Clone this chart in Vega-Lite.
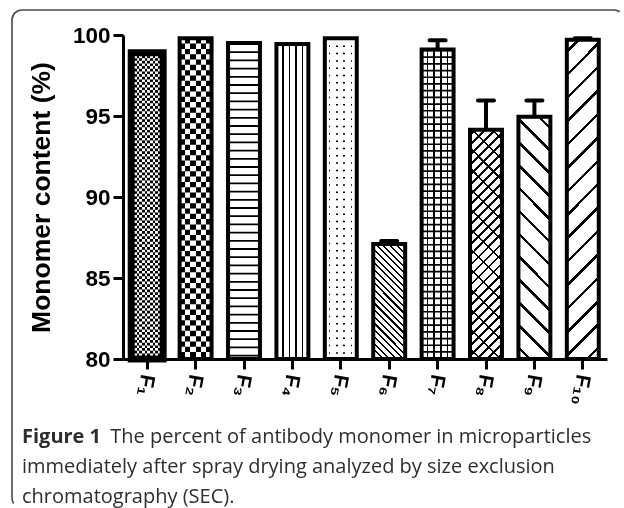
{
"$schema": "https://vega.github.io/schema/vega-lite/v6.json",
"width": 612, "height": 498,
"autosize": {"type": "none"},
"padding": {"left": 12, "top": 10, "right": 0, "bottom": 0},
"background": "white",
"config": {
  "view": {"stroke": "#4a4a4a", "strokeWidth": 1.6, "cornerRadius": 10, "strokeDash": [598, 1105, 510]},
  "axis": {"grid": false}
},
"title": {
  "text": "Figure 1",
  "subtitle": ["\u200b\u00a0\u00a0\u00a0\u00a0\u00a0\u00a0\u00a0\u00a0\u00a0\u00a0\u00a0\u00a0\u00a0\u00a0\u00a0\u00a0\u00a0The percent of antibody monomer in microparticles", "immediately after spray drying analyzed by size exclusion", "chromatography (SEC)."],
  "orient": "bottom", "anchor": "start", "frame": "group", "offset": -81, "dx": 10,
  "font": "Open Sans", "fontSize": 20, "fontWeight": "bold", "color": "#2e2e2e",
  "subtitleFont": "Open Sans", "subtitleFontSize": 20, "subtitleFontWeight": "normal", "subtitleColor": "#2e2e2e", "subtitleLineHeight": 30, "subtitlePadding": -20
},
"data": {"values": [
  {"f": "F\u2081", "v": 98.9},
  {"f": "F\u2082", "v": 99.8},
  {"f": "F\u2083", "v": 99.5},
  {"f": "F\u2084", "v": 99.45},
  {"f": "F\u2085", "v": 99.8},
  {"f": "F\u2086", "v": 87.1, "hi": 87.28},
  {"f": "F\u2087", "v": 99.1, "hi": 99.67},
  {"f": "F\u2088", "v": 94.15, "hi": 95.95},
  {"f": "F\u2089", "v": 94.95, "hi": 95.95},
  {"f": "F\u2081\u2080", "v": 99.7, "hi": 99.8}
]},
"encoding": {
  "x": {"field": "f", "type": "nominal",
    "scale": {"domain": ["F\u2081","F\u2082","F\u2083","F\u2084","F\u2085","F\u2086","F\u2087","F\u2088","F\u2089","F\u2081\u2080"], "range": [111, 595], "paddingInner": 0.34, "paddingOuter": 0.17},
    "axis": {"title": null, "labelAngle": 100, "labelFont": "Liberation Sans", "labelFontSize": 21, "labelFontWeight": "bold", "labelColor": "black", "labelPadding": 5, "tickSize": 10, "tickWidth": 3, "tickColor": "black", "domainColor": "black", "domainWidth": 3, "offset": -149}},
  "y": {"field": "v", "type": "quantitative",
    "scale": {"domain": [80, 100], "range": [349, 25], "nice": false, "zero": false},
    "axis": {"title": "Monomer content (%)", "titleFont": "Liberation Sans", "titleFontSize": 26.5, "titleFontWeight": "bold", "titleColor": "black", "titlePadding": 17, "values": [80, 85, 90, 95, 100], "labelFont": "Liberation Sans", "labelFontSize": 22.5, "labelFontWeight": "bold", "labelColor": "black", "labelPadding": 3, "tickSize": 10, "tickWidth": 3, "tickColor": "black", "domainColor": "black", "domainWidth": 3, "offset": -111}}
},
"layer": [
  {"mark": {"type": "bar", "fill": "#fff"}, "encoding": {"y2": {"datum": 80}}},
  {"transform": [{"filter": "datum.f==='F\u2081'"}], "mark": {"type": "bar", "fill": {"gradient": "linear", "x1": 0, "y1": 0, "x2": 1, "y2": 0, "stops": [
    {"offset":0,"color":"#000"},{"offset":0.0833,"color":"#000"},{"offset":0.0833,"color":"#fff"},{"offset":0.1667,"color":"#fff"},{"offset":0.1667,"color":"#000"},{"offset":0.25,"color":"#000"},{"offset":0.25,"color":"#fff"},{"offset":0.3333,"color":"#fff"},{"offset":0.3333,"color":"#000"},{"offset":0.4167,"color":"#000"},{"offset":0.4167,"color":"#fff"},{"offset":0.5,"color":"#fff"},{"offset":0.5,"color":"#000"},{"offset":0.5833,"color":"#000"},{"offset":0.5833,"color":"#fff"},{"offset":0.6667,"color":"#fff"},{"offset":0.6667,"color":"#000"},{"offset":0.75,"color":"#000"},{"offset":0.75,"color":"#fff"},{"offset":0.8333,"color":"#fff"},{"offset":0.8333,"color":"#000"},{"offset":0.9167,"color":"#000"},{"offset":0.9167,"color":"#fff"},{"offset":1,"color":"#fff"}]}}, "encoding": {"y2": {"datum": 80}}},
  {"transform": [{"filter": "datum.f==='F\u2082'"}], "mark": {"type": "bar", "fill": {"gradient": "linear", "x1": 0, "y1": 0, "x2": 1, "y2": 0, "stops": [
    {"offset":0,"color":"#000"},{"offset":0.1667,"color":"#000"},{"offset":0.1667,"color":"#fff"},{"offset":0.3333,"color":"#fff"},{"offset":0.3333,"color":"#000"},{"offset":0.5,"color":"#000"},{"offset":0.5,"color":"#fff"},{"offset":0.6667,"color":"#fff"},{"offset":0.6667,"color":"#000"},{"offset":0.8333,"color":"#000"},{"offset":0.8333,"color":"#fff"},{"offset":1,"color":"#fff"}]}}, "encoding": {"y2": {"datum": 80}}},
  {"transform": [{"filter": "datum.f==='F\u2084'"}], "mark": {"type": "bar", "fill": {"gradient": "linear", "x1": 0, "y1": 0, "x2": 1, "y2": 0, "stops": [
    {"offset":0,"color":"#fff"},{"offset":0.178,"color":"#fff"},{"offset":0.178,"color":"#000"},{"offset":0.228,"color":"#000"},{"offset":0.228,"color":"#fff"},{"offset":0.381,"color":"#fff"},{"offset":0.381,"color":"#000"},{"offset":0.431,"color":"#000"},{"offset":0.431,"color":"#fff"},{"offset":0.584,"color":"#fff"},{"offset":0.584,"color":"#000"},{"offset":0.634,"color":"#000"},{"offset":0.634,"color":"#fff"},{"offset":0.788,"color":"#fff"},{"offset":0.788,"color":"#000"},{"offset":0.838,"color":"#000"},{"offset":0.838,"color":"#fff"},{"offset":1,"color":"#fff"}]}}, "encoding": {"y2": {"datum": 80}}},
  {"transform": [{"filter": "datum.f==='F\u2086'"}], "mark": {"type": "bar", "fill": {"gradient": "linear", "x1": 0, "y1": 1, "x2": 0.3301, "y2": -0.1864, "stops": [
    {"offset":0.0155,"color":"#fff"},{"offset":0.0155,"color":"#000"},{"offset":0.0299,"color":"#000"},{"offset":0.0299,"color":"#fff"},
    {"offset":0.061,"color":"#fff"},{"offset":0.061,"color":"#000"},{"offset":0.0754,"color":"#000"},{"offset":0.0754,"color":"#fff"},
    {"offset":0.1064,"color":"#fff"},{"offset":0.1064,"color":"#000"},{"offset":0.1208,"color":"#000"},{"offset":0.1208,"color":"#fff"},
    {"offset":0.1519,"color":"#fff"},{"offset":0.1519,"color":"#000"},{"offset":0.1663,"color":"#000"},{"offset":0.1663,"color":"#fff"},
    {"offset":0.1973,"color":"#fff"},{"offset":0.1973,"color":"#000"},{"offset":0.2117,"color":"#000"},{"offset":0.2117,"color":"#fff"},
    {"offset":0.2428,"color":"#fff"},{"offset":0.2428,"color":"#000"},{"offset":0.2572,"color":"#000"},{"offset":0.2572,"color":"#fff"},
    {"offset":0.2883,"color":"#fff"},{"offset":0.2883,"color":"#000"},{"offset":0.3027,"color":"#000"},{"offset":0.3027,"color":"#fff"},
    {"offset":0.3337,"color":"#fff"},{"offset":0.3337,"color":"#000"},{"offset":0.3481,"color":"#000"},{"offset":0.3481,"color":"#fff"},
    {"offset":0.3792,"color":"#fff"},{"offset":0.3792,"color":"#000"},{"offset":0.3936,"color":"#000"},{"offset":0.3936,"color":"#fff"},
    {"offset":0.4246,"color":"#fff"},{"offset":0.4246,"color":"#000"},{"offset":0.439,"color":"#000"},{"offset":0.439,"color":"#fff"},
    {"offset":0.4701,"color":"#fff"},{"offset":0.4701,"color":"#000"},{"offset":0.4845,"color":"#000"},{"offset":0.4845,"color":"#fff"},
    {"offset":0.5155,"color":"#fff"},{"offset":0.5155,"color":"#000"},{"offset":0.5299,"color":"#000"},{"offset":0.5299,"color":"#fff"},
    {"offset":0.561,"color":"#fff"},{"offset":0.561,"color":"#000"},{"offset":0.5754,"color":"#000"},{"offset":0.5754,"color":"#fff"},
    {"offset":0.6064,"color":"#fff"},{"offset":0.6064,"color":"#000"},{"offset":0.6208,"color":"#000"},{"offset":0.6208,"color":"#fff"},
    {"offset":0.6519,"color":"#fff"},{"offset":0.6519,"color":"#000"},{"offset":0.6663,"color":"#000"},{"offset":0.6663,"color":"#fff"},
    {"offset":0.6973,"color":"#fff"},{"offset":0.6973,"color":"#000"},{"offset":0.7117,"color":"#000"},{"offset":0.7117,"color":"#fff"},
    {"offset":0.7428,"color":"#fff"},{"offset":0.7428,"color":"#000"},{"offset":0.7572,"color":"#000"},{"offset":0.7572,"color":"#fff"},
    {"offset":0.7883,"color":"#fff"},{"offset":0.7883,"color":"#000"},{"offset":0.8027,"color":"#000"},{"offset":0.8027,"color":"#fff"},
    {"offset":0.8337,"color":"#fff"},{"offset":0.8337,"color":"#000"},{"offset":0.8481,"color":"#000"},{"offset":0.8481,"color":"#fff"},
    {"offset":0.8792,"color":"#fff"},{"offset":0.8792,"color":"#000"},{"offset":0.8936,"color":"#000"},{"offset":0.8936,"color":"#fff"},
    {"offset":0.9246,"color":"#fff"},{"offset":0.9246,"color":"#000"},{"offset":0.939,"color":"#000"},{"offset":0.939,"color":"#fff"},
    {"offset":0.9701,"color":"#fff"},{"offset":0.9701,"color":"#000"},{"offset":0.9845,"color":"#000"},{"offset":0.9845,"color":"#fff"}]}}, "encoding": {"y2": {"datum": 80}}},
  {"transform": [{"filter": "datum.f==='F\u2087'"}], "mark": {"type": "bar", "fill": {"gradient": "linear", "x1": 0, "y1": 0, "x2": 1, "y2": 0, "stops": [
    {"offset":0,"color":"#fff"},{"offset":0.159,"color":"#fff"},{"offset":0.159,"color":"#000"},{"offset":0.213,"color":"#000"},{"offset":0.213,"color":"#fff"},{"offset":0.369,"color":"#fff"},{"offset":0.369,"color":"#000"},{"offset":0.422,"color":"#000"},{"offset":0.422,"color":"#fff"},{"offset":0.578,"color":"#fff"},{"offset":0.578,"color":"#000"},{"offset":0.631,"color":"#000"},{"offset":0.631,"color":"#fff"},{"offset":0.788,"color":"#fff"},{"offset":0.788,"color":"#000"},{"offset":0.841,"color":"#000"},{"offset":0.841,"color":"#fff"},{"offset":1,"color":"#fff"}]}}, "encoding": {"y2": {"datum": 80}}},
  {"transform": [{"filter": "datum.f==='F\u2088'"}], "mark": {"type": "bar", "fill": {"gradient": "linear", "x1": 0, "y1": 0, "x2": 0.1562, "y2": 1.118, "stops": [
    {"offset":0.0138,"color":"#fff"},{"offset":0.0138,"color":"#000"},{"offset":0.0246,"color":"#000"},{"offset":0.0246,"color":"#fff"},
    {"offset":0.0523,"color":"#fff"},{"offset":0.0523,"color":"#000"},{"offset":0.0631,"color":"#000"},{"offset":0.0631,"color":"#fff"},
    {"offset":0.0908,"color":"#fff"},{"offset":0.0908,"color":"#000"},{"offset":0.1016,"color":"#000"},{"offset":0.1016,"color":"#fff"},
    {"offset":0.1292,"color":"#fff"},{"offset":0.1292,"color":"#000"},{"offset":0.14,"color":"#000"},{"offset":0.14,"color":"#fff"},
    {"offset":0.1677,"color":"#fff"},{"offset":0.1677,"color":"#000"},{"offset":0.1785,"color":"#000"},{"offset":0.1785,"color":"#fff"},
    {"offset":0.2061,"color":"#fff"},{"offset":0.2061,"color":"#000"},{"offset":0.2169,"color":"#000"},{"offset":0.2169,"color":"#fff"},
    {"offset":0.2446,"color":"#fff"},{"offset":0.2446,"color":"#000"},{"offset":0.2554,"color":"#000"},{"offset":0.2554,"color":"#fff"},
    {"offset":0.2831,"color":"#fff"},{"offset":0.2831,"color":"#000"},{"offset":0.2939,"color":"#000"},{"offset":0.2939,"color":"#fff"},
    {"offset":0.3215,"color":"#fff"},{"offset":0.3215,"color":"#000"},{"offset":0.3323,"color":"#000"},{"offset":0.3323,"color":"#fff"},
    {"offset":0.36,"color":"#fff"},{"offset":0.36,"color":"#000"},{"offset":0.3708,"color":"#000"},{"offset":0.3708,"color":"#fff"},
    {"offset":0.3984,"color":"#fff"},{"offset":0.3984,"color":"#000"},{"offset":0.4092,"color":"#000"},{"offset":0.4092,"color":"#fff"},
    {"offset":0.4369,"color":"#fff"},{"offset":0.4369,"color":"#000"},{"offset":0.4477,"color":"#000"},{"offset":0.4477,"color":"#fff"},
    {"offset":0.4754,"color":"#fff"},{"offset":0.4754,"color":"#000"},{"offset":0.4862,"color":"#000"},{"offset":0.4862,"color":"#fff"},
    {"offset":0.5138,"color":"#fff"},{"offset":0.5138,"color":"#000"},{"offset":0.5246,"color":"#000"},{"offset":0.5246,"color":"#fff"},
    {"offset":0.5523,"color":"#fff"},{"offset":0.5523,"color":"#000"},{"offset":0.5631,"color":"#000"},{"offset":0.5631,"color":"#fff"},
    {"offset":0.5908,"color":"#fff"},{"offset":0.5908,"color":"#000"},{"offset":0.6016,"color":"#000"},{"offset":0.6016,"color":"#fff"},
    {"offset":0.6292,"color":"#fff"},{"offset":0.6292,"color":"#000"},{"offset":0.64,"color":"#000"},{"offset":0.64,"color":"#fff"},
    {"offset":0.6677,"color":"#fff"},{"offset":0.6677,"color":"#000"},{"offset":0.6785,"color":"#000"},{"offset":0.6785,"color":"#fff"},
    {"offset":0.7061,"color":"#fff"},{"offset":0.7061,"color":"#000"},{"offset":0.7169,"color":"#000"},{"offset":0.7169,"color":"#fff"},
    {"offset":0.7446,"color":"#fff"},{"offset":0.7446,"color":"#000"},{"offset":0.7554,"color":"#000"},{"offset":0.7554,"color":"#fff"},
    {"offset":0.7831,"color":"#fff"},{"offset":0.7831,"color":"#000"},{"offset":0.7939,"color":"#000"},{"offset":0.7939,"color":"#fff"},
    {"offset":0.8215,"color":"#fff"},{"offset":0.8215,"color":"#000"},{"offset":0.8323,"color":"#000"},{"offset":0.8323,"color":"#fff"},
    {"offset":0.86,"color":"#fff"},{"offset":0.86,"color":"#000"},{"offset":0.8708,"color":"#000"},{"offset":0.8708,"color":"#fff"},
    {"offset":0.8984,"color":"#fff"},{"offset":0.8984,"color":"#000"},{"offset":0.9092,"color":"#000"},{"offset":0.9092,"color":"#fff"},
    {"offset":0.9369,"color":"#fff"},{"offset":0.9369,"color":"#000"},{"offset":0.9477,"color":"#000"},{"offset":0.9477,"color":"#fff"},
    {"offset":0.9754,"color":"#fff"},{"offset":0.9754,"color":"#000"},{"offset":0.9862,"color":"#000"},{"offset":0.9862,"color":"#fff"}]}}, "encoding": {"y2": {"datum": 80}}},
  {"transform": [{"filter": "datum.f==='F\u2088'"}], "mark": {"type": "bar", "fill": {"gradient": "linear", "x1": 0, "y1": 1, "x2": 0.1562, "y2": -0.118, "stops": [
    {"offset":0.0345,"color":"rgba(0,0,0,0)"},{"offset":0.0345,"color":"#000"},{"offset":0.0425,"color":"#000"},{"offset":0.0425,"color":"rgba(0,0,0,0)"},
    {"offset":0.1114,"color":"rgba(0,0,0,0)"},{"offset":0.1114,"color":"#000"},{"offset":0.1194,"color":"#000"},{"offset":0.1194,"color":"rgba(0,0,0,0)"},
    {"offset":0.1883,"color":"rgba(0,0,0,0)"},{"offset":0.1883,"color":"#000"},{"offset":0.1963,"color":"#000"},{"offset":0.1963,"color":"rgba(0,0,0,0)"},
    {"offset":0.2652,"color":"rgba(0,0,0,0)"},{"offset":0.2652,"color":"#000"},{"offset":0.2732,"color":"#000"},{"offset":0.2732,"color":"rgba(0,0,0,0)"},
    {"offset":0.3422,"color":"rgba(0,0,0,0)"},{"offset":0.3422,"color":"#000"},{"offset":0.3502,"color":"#000"},{"offset":0.3502,"color":"rgba(0,0,0,0)"},
    {"offset":0.4191,"color":"rgba(0,0,0,0)"},{"offset":0.4191,"color":"#000"},{"offset":0.4271,"color":"#000"},{"offset":0.4271,"color":"rgba(0,0,0,0)"},
    {"offset":0.496,"color":"rgba(0,0,0,0)"},{"offset":0.496,"color":"#000"},{"offset":0.504,"color":"#000"},{"offset":0.504,"color":"rgba(0,0,0,0)"},
    {"offset":0.5729,"color":"rgba(0,0,0,0)"},{"offset":0.5729,"color":"#000"},{"offset":0.5809,"color":"#000"},{"offset":0.5809,"color":"rgba(0,0,0,0)"},
    {"offset":0.6498,"color":"rgba(0,0,0,0)"},{"offset":0.6498,"color":"#000"},{"offset":0.6578,"color":"#000"},{"offset":0.6578,"color":"rgba(0,0,0,0)"},
    {"offset":0.7268,"color":"rgba(0,0,0,0)"},{"offset":0.7268,"color":"#000"},{"offset":0.7348,"color":"#000"},{"offset":0.7348,"color":"rgba(0,0,0,0)"},
    {"offset":0.8037,"color":"rgba(0,0,0,0)"},{"offset":0.8037,"color":"#000"},{"offset":0.8117,"color":"#000"},{"offset":0.8117,"color":"rgba(0,0,0,0)"},
    {"offset":0.8806,"color":"rgba(0,0,0,0)"},{"offset":0.8806,"color":"#000"},{"offset":0.8886,"color":"#000"},{"offset":0.8886,"color":"rgba(0,0,0,0)"},
    {"offset":0.9575,"color":"rgba(0,0,0,0)"},{"offset":0.9575,"color":"#000"},{"offset":0.9655,"color":"#000"},{"offset":0.9655,"color":"rgba(0,0,0,0)"}]}}, "encoding": {"y2": {"datum": 80}}},
  {"transform": [{"filter": "datum.f==='F\u2089'"}], "mark": {"type": "bar", "fill": {"gradient": "linear", "x1": 0, "y1": 1, "x2": 0.1471, "y2": -0.1128, "stops": [
    {"offset":0.0352,"color":"#fff"},{"offset":0.0352,"color":"#000"},{"offset":0.0482,"color":"#000"},{"offset":0.0482,"color":"#fff"},
    {"offset":0.1185,"color":"#fff"},{"offset":0.1185,"color":"#000"},{"offset":0.1315,"color":"#000"},{"offset":0.1315,"color":"#fff"},
    {"offset":0.2018,"color":"#fff"},{"offset":0.2018,"color":"#000"},{"offset":0.2148,"color":"#000"},{"offset":0.2148,"color":"#fff"},
    {"offset":0.2852,"color":"#fff"},{"offset":0.2852,"color":"#000"},{"offset":0.2982,"color":"#000"},{"offset":0.2982,"color":"#fff"},
    {"offset":0.3685,"color":"#fff"},{"offset":0.3685,"color":"#000"},{"offset":0.3815,"color":"#000"},{"offset":0.3815,"color":"#fff"},
    {"offset":0.4518,"color":"#fff"},{"offset":0.4518,"color":"#000"},{"offset":0.4648,"color":"#000"},{"offset":0.4648,"color":"#fff"},
    {"offset":0.5352,"color":"#fff"},{"offset":0.5352,"color":"#000"},{"offset":0.5482,"color":"#000"},{"offset":0.5482,"color":"#fff"},
    {"offset":0.6185,"color":"#fff"},{"offset":0.6185,"color":"#000"},{"offset":0.6315,"color":"#000"},{"offset":0.6315,"color":"#fff"},
    {"offset":0.7018,"color":"#fff"},{"offset":0.7018,"color":"#000"},{"offset":0.7148,"color":"#000"},{"offset":0.7148,"color":"#fff"},
    {"offset":0.7852,"color":"#fff"},{"offset":0.7852,"color":"#000"},{"offset":0.7982,"color":"#000"},{"offset":0.7982,"color":"#fff"},
    {"offset":0.8685,"color":"#fff"},{"offset":0.8685,"color":"#000"},{"offset":0.8815,"color":"#000"},{"offset":0.8815,"color":"#fff"},
    {"offset":0.9518,"color":"#fff"},{"offset":0.9518,"color":"#000"},{"offset":0.9648,"color":"#000"},{"offset":0.9648,"color":"#fff"}]}}, "encoding": {"y2": {"datum": 80}}},
  {"transform": [{"filter": "datum.f==='F\u2081\u2080'"}], "mark": {"type": "bar", "fill": {"gradient": "linear", "x1": 0, "y1": 0, "x2": 0.1093, "y2": 1.0894, "stops": [
    {"offset":0.0283,"color":"#fff"},{"offset":0.0283,"color":"#000"},{"offset":0.0383,"color":"#000"},{"offset":0.0383,"color":"#fff"},
    {"offset":0.095,"color":"#fff"},{"offset":0.095,"color":"#000"},{"offset":0.105,"color":"#000"},{"offset":0.105,"color":"#fff"},
    {"offset":0.1617,"color":"#fff"},{"offset":0.1617,"color":"#000"},{"offset":0.1717,"color":"#000"},{"offset":0.1717,"color":"#fff"},
    {"offset":0.2283,"color":"#fff"},{"offset":0.2283,"color":"#000"},{"offset":0.2383,"color":"#000"},{"offset":0.2383,"color":"#fff"},
    {"offset":0.295,"color":"#fff"},{"offset":0.295,"color":"#000"},{"offset":0.305,"color":"#000"},{"offset":0.305,"color":"#fff"},
    {"offset":0.3617,"color":"#fff"},{"offset":0.3617,"color":"#000"},{"offset":0.3717,"color":"#000"},{"offset":0.3717,"color":"#fff"},
    {"offset":0.4283,"color":"#fff"},{"offset":0.4283,"color":"#000"},{"offset":0.4383,"color":"#000"},{"offset":0.4383,"color":"#fff"},
    {"offset":0.495,"color":"#fff"},{"offset":0.495,"color":"#000"},{"offset":0.505,"color":"#000"},{"offset":0.505,"color":"#fff"},
    {"offset":0.5617,"color":"#fff"},{"offset":0.5617,"color":"#000"},{"offset":0.5717,"color":"#000"},{"offset":0.5717,"color":"#fff"},
    {"offset":0.6283,"color":"#fff"},{"offset":0.6283,"color":"#000"},{"offset":0.6383,"color":"#000"},{"offset":0.6383,"color":"#fff"},
    {"offset":0.695,"color":"#fff"},{"offset":0.695,"color":"#000"},{"offset":0.705,"color":"#000"},{"offset":0.705,"color":"#fff"},
    {"offset":0.7617,"color":"#fff"},{"offset":0.7617,"color":"#000"},{"offset":0.7717,"color":"#000"},{"offset":0.7717,"color":"#fff"},
    {"offset":0.8283,"color":"#fff"},{"offset":0.8283,"color":"#000"},{"offset":0.8383,"color":"#000"},{"offset":0.8383,"color":"#fff"},
    {"offset":0.895,"color":"#fff"},{"offset":0.895,"color":"#000"},{"offset":0.905,"color":"#000"},{"offset":0.905,"color":"#fff"},
    {"offset":0.9617,"color":"#fff"},{"offset":0.9617,"color":"#000"},{"offset":0.9717,"color":"#000"},{"offset":0.9717,"color":"#fff"}]}}, "encoding": {"y2": {"datum": 80}}},
  {"transform": [{"filter": "datum.f==='F\u2081'"}], "mark": {"type": "rule", "stroke": "#fff", "strokeWidth": 31.9, "strokeDash": [2.66, 2.66], "blend": "difference"}, "encoding": {"y2": {"datum": 80}}},
  {"transform": [{"filter": "datum.f==='F\u2082'"}], "mark": {"type": "rule", "stroke": "#fff", "strokeWidth": 31.9, "strokeDash": [5.32, 5.32], "blend": "difference"}, "encoding": {"y2": {"datum": 80}}},
  {"transform": [{"filter": "datum.f==='F\u2083'"}], "mark": {"type": "rule", "stroke": "#000", "strokeWidth": 31.9, "strokeDash": [1.8, 6.4]}, "encoding": {"y2": {"datum": 80}}},
  {"transform": [{"filter": "datum.f==='F\u2085'"}], "mark": {"type": "rule", "stroke": "#000", "strokeWidth": 31.9, "strokeDash": [1.5, 5.8]}, "encoding": {"y2": {"datum": 80}}},
  {"transform": [{"filter": "datum.f==='F\u2085'"}], "mark": {"type": "bar", "fill": {"gradient": "linear", "x1": 0, "y1": 0, "x2": 1, "y2": 0, "stops": [
    {"offset":0,"color":"#fff"},{"offset":0.125,"color":"#fff"},{"offset":0.125,"color":"rgba(255,255,255,0)"},{"offset":0.172,"color":"rgba(255,255,255,0)"},{"offset":0.172,"color":"#fff"},{"offset":0.352,"color":"#fff"},{"offset":0.352,"color":"rgba(255,255,255,0)"},{"offset":0.398,"color":"rgba(255,255,255,0)"},{"offset":0.398,"color":"#fff"},{"offset":0.578,"color":"#fff"},{"offset":0.578,"color":"rgba(255,255,255,0)"},{"offset":0.625,"color":"rgba(255,255,255,0)"},{"offset":0.625,"color":"#fff"},{"offset":0.805,"color":"#fff"},{"offset":0.805,"color":"rgba(255,255,255,0)"},{"offset":0.852,"color":"rgba(255,255,255,0)"},{"offset":0.852,"color":"#fff"},{"offset":1,"color":"#fff"}]}}, "encoding": {"y2": {"datum": 80}}},
  {"transform": [{"filter": "datum.f==='F\u2087'"}], "mark": {"type": "rule", "stroke": "#000", "strokeWidth": 31.9, "strokeDash": [1.7, 5.0]}, "encoding": {"y2": {"datum": 80}}},
  {"mark": {"type": "bar", "fill": "transparent", "stroke": "#000"}, "encoding": {"y2": {"datum": 80}, "strokeWidth": {"condition": {"test": "datum.f==='F\u2081'", "value": 7}, "value": 4}}},
  {"transform": [{"filter": "isValid(datum.hi)"}], "mark": {"type": "rule", "stroke": "#000", "strokeWidth": 4}, "encoding": {"y2": {"field": "hi"}}},
  {"transform": [{"filter": "isValid(datum.hi)"}], "mark": {"type": "tick", "color": "#000", "size": 20, "thickness": 4, "cornerRadius": 2, "opacity": 1}, "encoding": {"y": {"field": "hi", "type": "quantitative"}}}
]
}
